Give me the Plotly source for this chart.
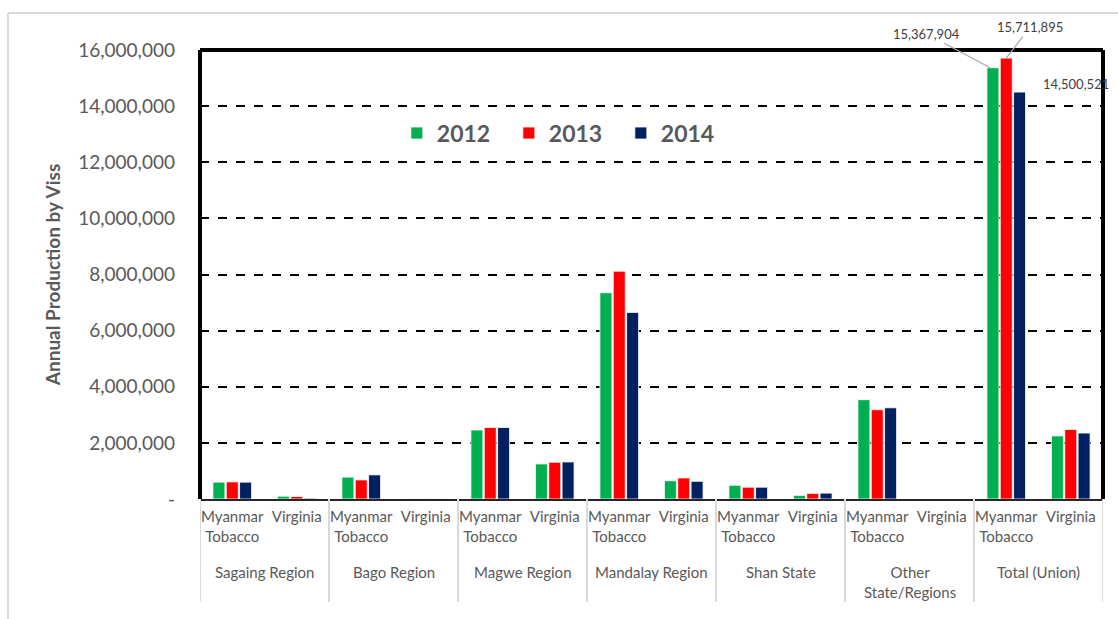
import plotly.graph_objects as go

# Tobacco production (viss) by state/region and tobacco type
regions = ["Sagaing Region", "Bago Region", "Magwe Region", "Mandalay Region",
           "Shan State", "Other<br>State/Regions", "Total (Union)"]
types = ["Myanmar<br>Tobacco", "Virginia"]
years = ["2012", "2013", "2014"]

prod_2012 = [600000, 100000, 780000, 10000, 2460000, 1250000, 7350000, 650000,
             490000, 130000, 3540000, 0, 15367904, 2250000]
prod_2013 = [610000, 90000, 680000, 10000, 2550000, 1310000, 8120000, 750000,
             420000, 200000, 3180000, 0, 15711895, 2480000]
prod_2014 = [600000, 30000, 860000, 5000, 2550000, 1320000, 6650000, 630000,
             420000, 210000, 3250000, 0, 14500521, 2350000]

colors = ["#00B050", "#FF0000", "#002060"]
y_ticks = [0, 2000000, 4000000, 6000000, 8000000, 10000000, 12000000, 14000000, 16000000]
y_ticktext = ["-"] + [f"{v:,}" for v in y_ticks[1:]]

FONT = "Lato"
GREY = "#595959"

n = len(regions) * len(types)
x_pos = list(range(n))
x_text = types * len(regions)

fig = go.Figure()
for name, vals, col in zip(years, [prod_2012, prod_2013, prod_2014], colors):
    fig.add_trace(go.Bar(
        x=x_pos, y=vals, name=name,
        marker=dict(color=col, line=dict(color="white", width=0.8)),
    ))

# Plot frame: thick black on left, top and right
frame = dict(color="black", width=4)
fig.add_shape(type="line", xref="paper", yref="paper", x0=0, x1=0, y0=0, y1=1, line=frame)
fig.add_shape(type="line", xref="paper", yref="paper", x0=0, x1=1, y0=1, y1=1, line=frame)
fig.add_shape(type="line", xref="paper", yref="paper", x0=1, x1=1, y0=0, y1=1, line=frame)

# Group dividers below the axis
for b in range(len(regions) + 1):
    xb = b * len(types) - 0.5
    fig.add_shape(type="line", xref="x", yref="paper", x0=xb, x1=xb, y0=0, y1=-0.229,
                  line=dict(color="#D9D9D9", width=2))

# Outer chart border (light grey)
fig.add_shape(type="line", xref="paper", yref="paper", x0=-0.2126, x1=1.03, y0=1.0824, y1=1.0824,
              line=dict(color="#D9D9D9", width=2))
fig.add_shape(type="line", xref="paper", yref="paper", x0=-0.2126, x1=-0.2126, y0=1.0824, y1=-0.3,
              line=dict(color="#D9D9D9", width=2))

# Region labels
for i, reg in enumerate(regions):
    xc = i * len(types) + 0.5
    yy = -0.185 if "<br>" in reg else -0.1626
    fig.add_annotation(x=xc, xref="x", y=yy, yref="paper", text=reg, showarrow=False,
                       font=dict(family=FONT, size=15, color=GREY), xanchor="center", yanchor="middle")

# Value labels for the Union totals of Myanmar tobacco
ti = 12
fig.add_annotation(x=ti, y=prod_2012[ti], xref="x", yref="y", xshift=-16,
                   text=f"{prod_2012[ti]:,}", showarrow=True, arrowhead=0, arrowwidth=1.2,
                   arrowcolor="#A6A6A6", ax=-64, ay=-34,
                   font=dict(family=FONT, size=13, color="#404040"))
fig.add_annotation(x=ti, y=prod_2013[ti], xref="x", yref="y", xshift=0,
                   text=f"{prod_2013[ti]:,}", showarrow=True, arrowhead=0, arrowwidth=1.2,
                   arrowcolor="#A6A6A6", ax=24, ay=-31,
                   font=dict(family=FONT, size=13, color="#404040"))
fig.add_annotation(x=ti, y=prod_2014[ti], xref="x", yref="y", xshift=70, yshift=8,
                   text=f"{prod_2014[ti]:,}", showarrow=False,
                   font=dict(family=FONT, size=13, color="#404040"))

fig.update_layout(
    width=1118, height=619,
    margin=dict(l=200, r=15, t=50, b=120),
    paper_bgcolor="white", plot_bgcolor="white",
    barmode="group", bargap=0.38, bargroupgap=0.1,
    font=dict(family=FONT, color=GREY),
    legend=dict(orientation="h", x=0.218, y=0.815, xanchor="left", yanchor="middle",
                font=dict(family=FONT, size=23, color=GREY, weight="bold"),
                entrywidth=67, entrywidthmode="pixels", bgcolor="rgba(0,0,0,0)"),
    xaxis=dict(
        tickmode="array", tickvals=x_pos, ticktext=x_text,
        range=[-0.5, n - 0.5], showgrid=False, zeroline=False,
        showline=True, linecolor="#262626", linewidth=2,
        ticks="", tickfont=dict(family=FONT, size=15, color=GREY),
        ticklabelstandoff=3,
    ),
    yaxis=dict(
        range=[0, 16000000], tickmode="array", tickvals=y_ticks, ticktext=y_ticktext,
        showgrid=True, gridcolor="black", gridwidth=1.5, griddash="dash",
        zeroline=False, showline=False, ticks="",
        tickfont=dict(family=FONT, size=19, color=GREY), ticklabelstandoff=24,
        title=dict(text="<b>Annual Production by Viss</b>", standoff=12,
                   font=dict(family=FONT, size=19, color=GREY)),
    ),
)

fig.write_html("out.html")
